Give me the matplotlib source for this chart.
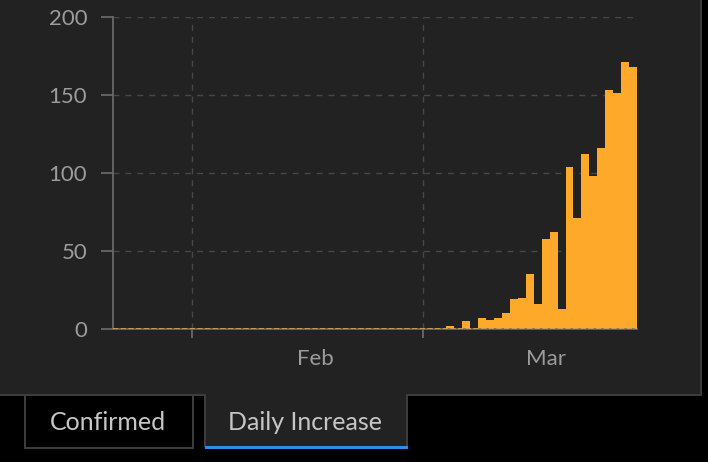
import matplotlib
matplotlib.use('Agg')
import matplotlib.pyplot as plt
import matplotlib.dates as mdates
from matplotlib.patches import Rectangle
import pandas as pd

plt.rcParams['font.family'] = ['Lato', 'DejaVu Sans']

# ---- data ----
start_date = '2020-01-22'
daily_increase = [
    0, 0, 0, 0, 0, 0, 0, 0, 0, 0,
    0, 0, 0, 0, 0, 0, 0, 0, 0, 0,
    0, 0, 0, 0, 0, 0, 0, 0, 0, 0,
    0, 0, 0, 0, 0, 0, 0, 0, 0, 0,
    0, 0, 2, 0, 5, 0, 7, 6, 7, 10,
    19, 20, 35, 16, 58, 62, 13, 104, 71, 112,
    98, 116, 153, 151, 171, 168,
]
y_ticks = [0, 50, 100, 150, 200]
month_starts = ['2020-02-01', '2020-03-01']
month_labels = ['Feb', 'Mar']
tab_labels = ['Confirmed', 'Daily Increase']

dates = pd.date_range(start_date, periods=len(daily_increase), freq='D')

# ---- styling ----
W, H = 708, 462
ORANGE = '#ffa92b'
PANEL = '#222222'
BORDER = '#3c3c3c'
GRID = '#474747'
AXIS = '#6e6e6e'
TEXT = '#9c9c9c'

def fx(x):
    return x / W

def fy(y):
    return 1 - y / H

fig = plt.figure(figsize=(W / 100, H / 100), dpi=100, facecolor='black')

def prect(x0, y0, x1, y1, color, z=0):
    fig.add_artist(Rectangle((fx(x0), fy(y1)), (x1 - x0) / W, (y1 - y0) / H,
                             transform=fig.transFigure, facecolor=color,
                             edgecolor='none', zorder=z))

# panel and borders
prect(0, 0, 700, 395, PANEL, 0)
prect(700, 0, 702, 396, BORDER, 0)
prect(0, 394, 702, 396, BORDER, 0)
# confirmed tab (inactive)
prect(24, 395, 194, 449, BORDER, 0)
prect(26, 396, 192, 447, 'black', 0)
# daily increase tab (active)
prect(204, 394, 408, 447, BORDER, 0)
prect(206, 394, 406, 447, PANEL, 0)
prect(205, 446, 408, 449, '#2e8de6', 0)

fig.text(fx(108), fy(423), tab_labels[0], ha='center', va='center',
         fontsize=18, color='#c6c6c6')
fig.text(fx(305), fy(423), tab_labels[1], ha='center', va='center',
         fontsize=18, color='#c6c6c6')

# ---- chart ----
ax = fig.add_axes([fx(113), fy(329), 524 / W, 312 / H])
ax.set_facecolor('none')

ax.bar(dates, daily_increase, width=1.0, align='edge', color=ORANGE,
       linewidth=0, zorder=3)
ax.axhline(0, color='#d9a55a', lw=1.2, dashes=(3.2, 1.4), zorder=6)

ax.set_ylim(y_ticks[0], y_ticks[-1])
ax.set_xlim(dates[0], dates[-1] + pd.Timedelta(days=1))

ax.set_yticks(y_ticks)
ax.set_axisbelow(True)
ax.grid(True, axis='y', color=GRID, lw=1.0, dashes=(4.3, 4.3))
ax.grid(True, axis='x', which='major', color=GRID, lw=1.0, dashes=(4.3, 4.3))

ax.set_xticks(pd.to_datetime(month_starts))
ax.xaxis.set_major_formatter(matplotlib.ticker.NullFormatter())
mid = pd.to_datetime(month_starts) + pd.Timedelta(days=15, hours=12)
ax.set_xticks(mid, minor=True)
ax.set_xticklabels(month_labels, minor=True)

for s in ['top', 'right']:
    ax.spines[s].set_visible(False)
ax.spines['left'].set_color(AXIS)
ax.spines['left'].set_linewidth(1.2)
ax.spines['bottom'].set_color(AXIS)
ax.spines['bottom'].set_linewidth(1.2)
ax.spines['bottom'].set_zorder(5)

ax.tick_params(axis='y', length=8.6, width=1.2, color=AXIS, pad=10,
               labelsize=16, labelcolor=TEXT)
ax.tick_params(axis='x', which='major', length=6.5, width=1.2, color=AXIS)
ax.tick_params(axis='x', which='minor', length=0, pad=14.5,
               labelsize=16, labelcolor=TEXT)

fig.savefig('out.png', dpi=100, facecolor='black')
